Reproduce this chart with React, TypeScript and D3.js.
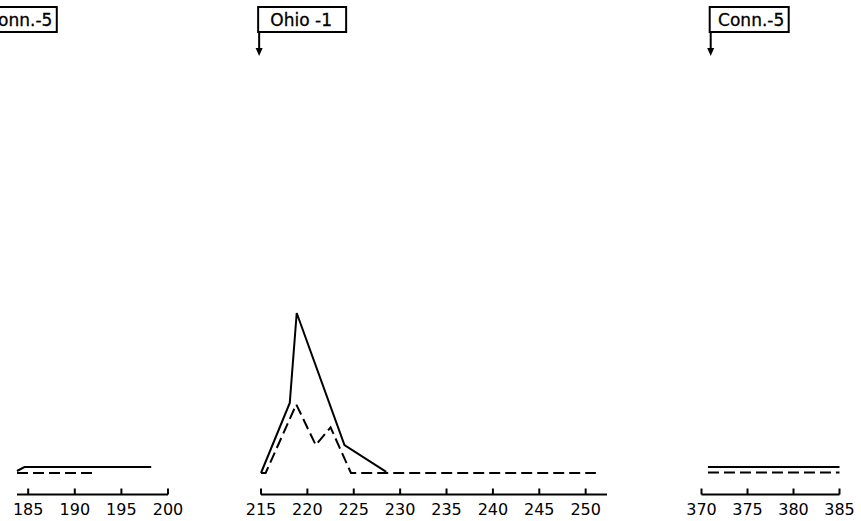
import React from "react";
import * as d3 from "d3";

// Panel domains (broken x axis in three pieces)
const panel1Domain = [183.8, 200];
const panel2Domain = [215, 252.3];
const panel3Domain = [370, 385];
const panel1Ticks = [185, 190, 195, 200];
const panel2Ticks = [215, 220, 225, 230, 235, 240, 245, 250];
const panel3Ticks = [370, 375, 380, 385];

// Series (solid / dashed), x = day, y = relative level
const p1SolidX = [183.8, 184.6, 198.2];
const p1SolidY = [1, 3, 3];
const p1DashX = [183.8, 191.9];
const p1DashY = [0, 0];

const p2SolidX = [215, 218.1, 218.85, 224.0, 228.5];
const p2SolidY = [0, 35, 80, 14, 0.6];
const p2DashX = [215, 215.5, 218.8, 220.9, 222.5, 224.7, 251.1];
const p2DashY = [0, 0, 34.3, 14, 22.8, 0, 0];

const p3SolidX = [370.7, 385];
const p3SolidY = [3, 3];
const p3DashX = [370.7, 385];
const p3DashY = [0.2, 0.2];

// Event labels
const labelTexts = ["Conn.-5", "Ohio -1", "Conn.-5"];
const labelPanels = [0, 1, 2];
const labelXs = [179.7, 214.8, 371.0];

const W = 861;
const H = 521;

export default function App() {
  const xs = [
    d3.scaleLinear().domain(panel1Domain).range([17, 168]),
    d3.scaleLinear().domain(panel2Domain).range([261, 607]),
    d3.scaleLinear().domain(panel3Domain).range([701.5, 839.5]),
  ];
  const ticks = [panel1Ticks, panel2Ticks, panel3Ticks];
  const y = d3.scaleLinear().domain([0, 100]).range([473, 273]);
  const axisY = 494.5;

  const series = [
    [p1SolidX, p1SolidY, p1DashX, p1DashY],
    [p2SolidX, p2SolidY, p2DashX, p2DashY],
    [p3SolidX, p3SolidY, p3DashX, p3DashY],
  ];

  const mkLine = (sx: any, xv: number[], yv: number[]) =>
    d3
      .line<number>()
      .x((_, i) => sx(xv[i]))
      .y((_, i) => y(yv[i]))(xv);

  const font = "'DejaVu Sans', sans-serif";

  return (
    <svg
      width={W}
      height={H}
      style={{ position: "absolute", left: 0, top: 0, background: "#fff" }}
    >
      {xs.map((sx, pi) => {
        const [r0, r1] = sx.range();
        const [sX, sY, dX, dY] = series[pi];
        return (
          <g key={pi}>
            <line
              x1={r0}
              x2={r1}
              y1={axisY}
              y2={axisY}
              stroke="#000"
              strokeWidth={2}
            />
            {ticks[pi].map((t) => (
              <g key={t}>
                <line
                  x1={sx(t)}
                  x2={sx(t)}
                  y1={axisY}
                  y2={axisY - 6}
                  stroke="#000"
                  strokeWidth={2}
                />
                <text
                  x={sx(t)}
                  y={515}
                  textAnchor="middle"
                  fontFamily={font}
                  fontSize={16}
                  fill="#000"
                >
                  {t}
                </text>
              </g>
            ))}
            <path
              d={mkLine(sx, sX, sY) || ""}
              fill="none"
              stroke="#000"
              strokeWidth={2}
              strokeLinejoin="miter"
            />
            <path
              d={mkLine(sx, dX, dY) || ""}
              fill="none"
              stroke="#000"
              strokeWidth={2}
              strokeDasharray="11 5"
            />
          </g>
        );
      })}
      {labelTexts.map((txt, i) => {
        const ax = xs[labelPanels[i]](labelXs[i]);
        const boxW = i === 1 ? 88 : 79;
        return (
          <g key={i}>
            <rect
              x={ax - 1}
              y={7}
              width={boxW}
              height={25}
              fill="#fff"
              stroke="#000"
              strokeWidth={2}
            />
            <text
              x={ax - 1 + boxW / 2 + (i === 1 ? -1 : 2)}
              y={26}
              textAnchor="middle"
              fontFamily={font}
              fontSize={17}
              fill="#000"
              stroke="#000"
              strokeWidth={0.3}
            >
              {txt}
            </text>
            <line
              x1={ax}
              x2={ax}
              y1={32}
              y2={49}
              stroke="#000"
              strokeWidth={2}
            />
            <path
              d={`M${ax - 3.5},48 L${ax + 3.5},48 L${ax},56 Z`}
              fill="#000"
            />
          </g>
        );
      })}
    </svg>
  );
}
